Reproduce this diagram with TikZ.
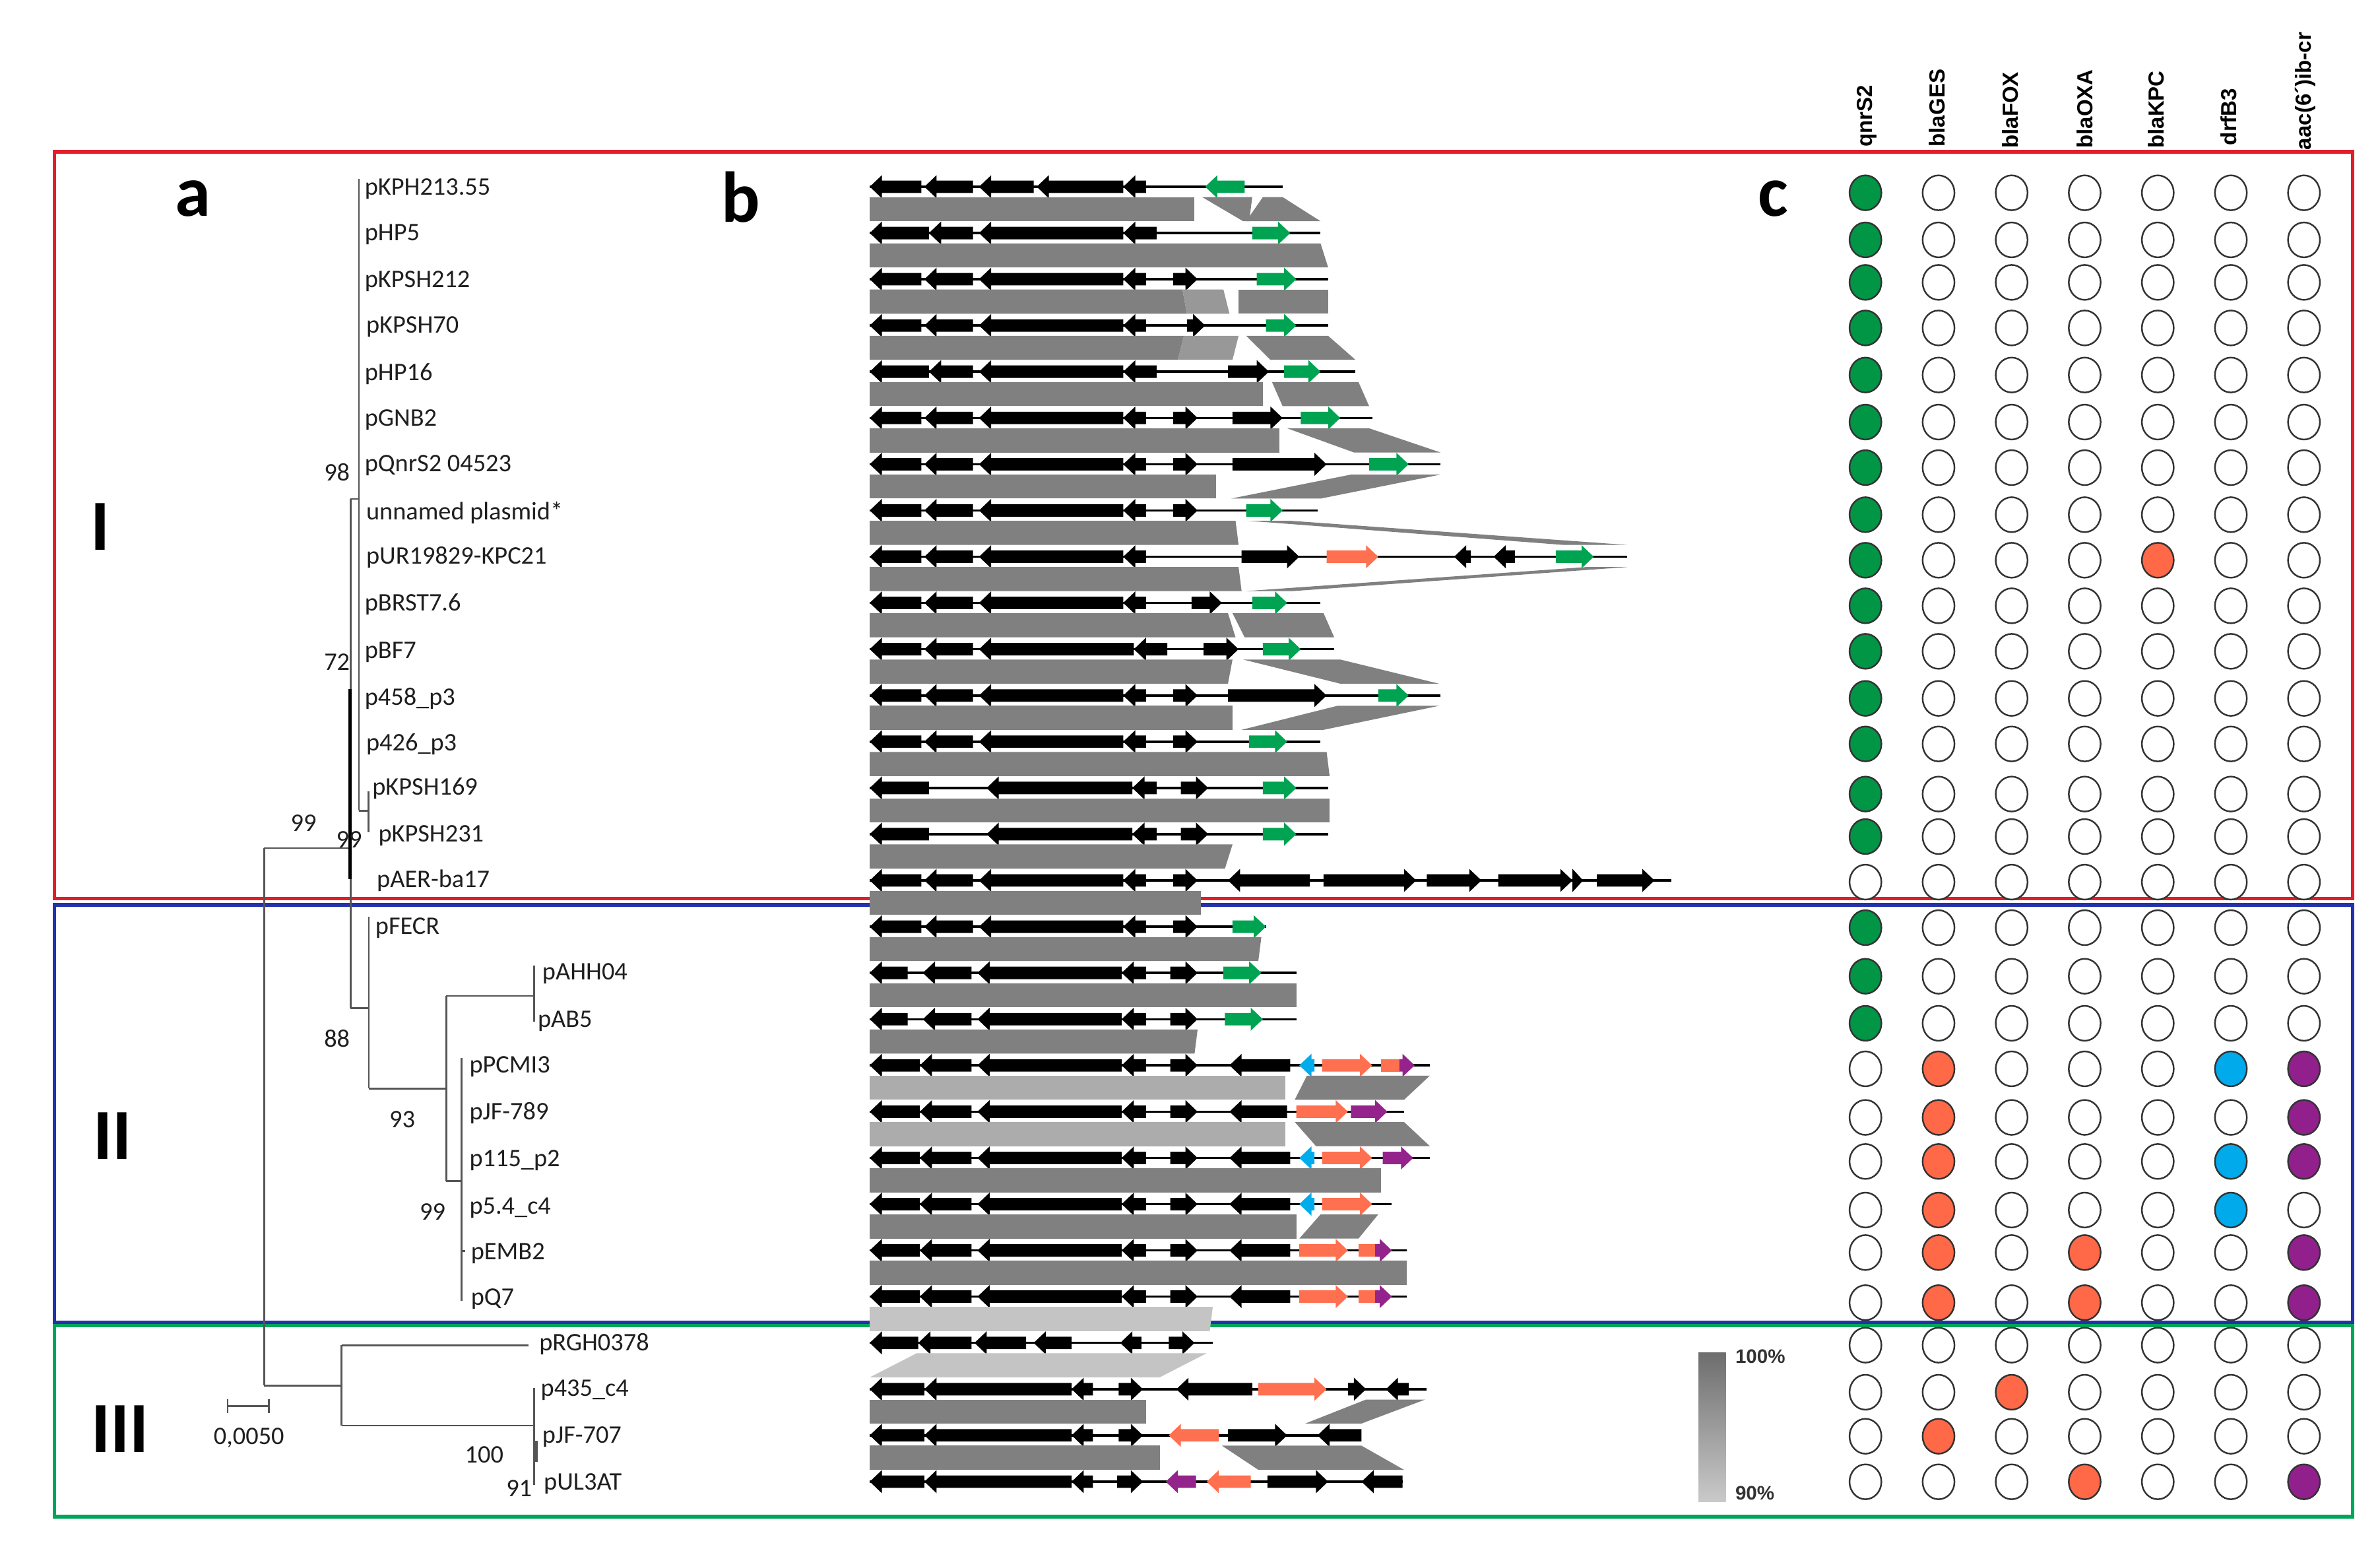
\documentclass[tikz,border=0pt]{standalone}
\usepackage{fontspec}
\setmainfont{Carlito}
\newfontfamily\hdrfont{Liberation Sans}
\definecolor{boxred}{RGB}{226,30,40}
\definecolor{boxblue}{RGB}{35,50,170}
\definecolor{boxgreen}{RGB}{0,165,90}
\definecolor{gGreen}{RGB}{0,163,82}
\definecolor{gOrange}{RGB}{255,112,80}
\definecolor{gCyan}{RGB}{0,172,236}
\definecolor{gPurple}{RGB}{148,36,140}
\definecolor{bDark}{RGB}{128,128,128}
\definecolor{bMid}{RGB}{152,152,152}
\definecolor{bLight}{RGB}{172,172,172}
\definecolor{bLighter}{RGB}{196,196,196}
\definecolor{treeGrey}{RGB}{85,85,85}
\definecolor{c0}{RGB}{255,255,255}
\definecolor{cg}{RGB}{0,150,70}
\definecolor{co}{RGB}{255,105,72}
\definecolor{cc}{RGB}{0,170,235}
\definecolor{cp}{RGB}{146,32,140}
\tikzset{
  lab/.style={anchor=base west, inner sep=0pt, font=\fontsize{10.9}{12}\selectfont, text=black!88},
  boot/.style={anchor=base, inner sep=0pt, font=\fontsize{10.9}{12}\selectfont, text=black!88},
  big/.style={inner sep=0pt, font=\fontsize{31}{31}\selectfont\bfseries},
  hdr/.style={rotate=90, anchor=base west, inner sep=0pt, font=\hdrfont\bfseries\fontsize{9.4}{10}\selectfont},
  leg/.style={anchor=base west, inner sep=0pt, font=\hdrfont\bfseries\fontsize{8.4}{9}\selectfont, text=black!80},
  tree/.style={draw=treeGrey, line width=0.8pt},
  trk/.style={draw=black, line width=1pt},
  frame/.style={line width=1.5pt},
  circ/.style={draw=black!80, line width=0.7pt}
}
\def\cy{0}
\def\bh{4.1}\def\hh{7.6}\def\hlen{8}
\newcommand\TR[1]{\draw[trk] ({573},{\cy}) -- ({#1},{\cy});}
\newcommand\GF[3][black]{\pgfmathsetmacro\hl{min(\hlen,#3-#2)}%
  \fill[#1] ({#2},{\cy-\bh}) -- ({#3-\hl},{\cy-\bh}) -- ({#3-\hl},{\cy-\hh}) -- ({#3},{\cy}) -- ({#3-\hl},{\cy+\hh}) -- ({#3-\hl},{\cy+\bh}) -- ({#2},{\cy+\bh}) -- cycle;}
\newcommand\GR[3][black]{\pgfmathsetmacro\hl{min(\hlen,#3-#2)}%
  \fill[#1] ({#3},{\cy-\bh}) -- ({#2+\hl},{\cy-\bh}) -- ({#2+\hl},{\cy-\hh}) -- ({#2},{\cy}) -- ({#2+\hl},{\cy+\hh}) -- ({#2+\hl},{\cy+\bh}) -- ({#3},{\cy+\bh}) -- cycle;}
\newcommand\BOX[3][gOrange]{\fill[#1] ({#2},{\cy-\bh}) rectangle ({#3},{\cy+\bh});}
\newcommand\SB[2]{\pgfmathsetmacro\ta{#1+6.8}\pgfmathsetmacro\tb{#2-7.8}}
\newcommand\BD[5][bDark]{\fill[#1] ({#2},{\ta}) -- ({#3},{\ta}) -- ({#5},{\tb}) -- ({#4},{\tb}) -- cycle;}
\newcommand\stdL{\GR{573}{607}\GR{609}{641}\GR{645}{740}\GR{740}{755}}
\newcommand\stdII{\GR{573}{606}\GR{606}{640}\GR{644}{739}\GR{739}{755}\GF{771}{789}}
\newcommand\CR[2]{\foreach \cq [count=\k from 0] in {#2} {\draw[circ, fill=c\cq] ({1229+48.15*\k},{#1}) ellipse [x radius=10.5, y radius=11.5];}}
\begin{document}
\begin{tikzpicture}[x=0.023cm,y=-0.023cm]
\useasboundingbox (0,0) rectangle (1568,1020);
\fill[white] (0,0) rectangle (1568,1020);
% frames
\draw[frame, boxred] (36,100) rectangle (1550,592);
\draw[frame, boxblue] (36,596) rectangle (1550,871);
\draw[frame, boxgreen] (36,873) rectangle (1550,999);
% panel letters and clade numerals
\node[big] (pa) at (127,131) {a};
\node[big] (pb) at (488,130) {b};
\node[big] (pc) at (1168,131) {c};
\node[big] (r1) at (66,347) {I};
\node[big] (r2) at (74,748) {II};
\node[big] (r3) at (79,941) {III};
% tree
\draw[tree] (174,558.6) -- (174,912.5);
\draw[tree] (174,558.6) -- (231,558.6);
\draw[tree] (174,912.5) -- (225,912.5);
\draw[tree] (231,328.6) -- (231,664);
\draw[tree] (231,328.6) -- (236.5,328.6);
\draw[tree] (236.5,118) -- (236.5,534);
\draw[tree] (236.5,534) -- (242.7,534);
\draw[tree] (242.7,521) -- (242.7,548);
\draw[black, line width=1.4pt] (230.6,454) -- (230.6,579);
\draw[tree] (231,664) -- (243,664);
\draw[tree] (243,604) -- (243,717);
\draw[tree] (243,717) -- (294,717);
\draw[tree] (294,656) -- (294,778);
\draw[tree] (294,656) -- (352,656);
\draw[tree] (352,636) -- (352,673);
\draw[tree] (294,778) -- (304,778);
\draw[tree] (304,697) -- (304,857);
\draw[tree] (304,824) -- (306.5,824);
\draw[tree] (225,886) -- (225,939);
\draw[tree] (225,886) -- (348,886);
\draw[tree] (225,939) -- (352,939);
\draw[tree] (352,914) -- (352,978);
\draw[treeGrey, line width=1.5pt] (353,949) -- (353,963);
\draw[tree] (150,926) -- (177,926);
\draw[tree] (150,921.5) -- (150,930.5);
\draw[tree] (177,921.5) -- (177,930.5);
\node[boot] (sc) at (164,951.5) {0,0050};
% leaf labels
\node[lab] (l1) at (240,128.5) {pKPH213.55};
\node[lab] (l2) at (240,158.5) {pHP5};
\node[lab] (l3) at (240,189.5) {pKPSH212};
\node[lab] (l4) at (241,219.5) {pKPSH70};
\node[lab] (l5) at (240,250.5) {pHP16};
\node[lab] (l6) at (240,280.5) {pGNB2};
\node[lab] (l7) at (240,310.5) {pQnrS2 04523};
\node[lab] (l8) at (241,342.5) {unnamed plasmid*};
\node[lab] (l9) at (241,371.5) {pUR19829-KPC21};
\node[lab] (l10) at (240,402.5) {pBRST7.6};
\node[lab] (l11) at (240,433.5) {pBF7};
\node[lab] (l12) at (240,464.5) {p458\_p3};
\node[lab] (l13) at (241,494.5) {p426\_p3};
\node[lab] (l14) at (245,523.5) {pKPSH169};
\node[lab] (l15) at (249,554.5) {pKPSH231};
\node[lab] (l16) at (248,584.5) {pAER-ba17};
\node[lab] (l17) at (247,615.5) {pFECR};
\node[lab] (l18) at (357,645.5) {pAHH04};
\node[lab] (l19) at (354,676.5) {pAB5};
\node[lab] (l20) at (309,706.5) {pPCMI3};
\node[lab] (l21) at (309,737.5) {pJF-789};
\node[lab] (l22) at (309,768.5) {p115\_p2};
\node[lab] (l23) at (309,799.5) {p5.4\_c4};
\node[lab] (l24) at (310,829.5) {pEMB2};
\node[lab] (l25) at (310,859.5) {pQ7};
\node[lab] (l26) at (355,889.5) {pRGH0378};
\node[lab] (l27) at (356,919.5) {p435\_c4};
\node[lab] (l28) at (357,950.5) {pJF-707};
\node[lab] (l29) at (358,981.5) {pUL3AT};
% bootstrap values
\node[boot] (b1) at (222,316.5) {98};
\node[boot] (b2) at (222,441.5) {72};
\node[boot] (b3) at (200,547.5) {99};
\node[boot] (b4) at (230,558.5) {99};
\node[boot] (b5) at (222,689.5) {88};
\node[boot] (b6) at (265,742.5) {93};
\node[boot] (b7) at (285,803.5) {99};
\node[boot] (b8) at (319,963.5) {100};
\node[boot] (b9) at (342,985.5) {91};
% ---------- panel b ----------
\def\cy{123}\TR{845}\GR{573}{607}\GR{609}{641}\GR{645}{681}\GR{683}{740}\GR{740}{755}\GR[gGreen]{794}{820}
\SB{123}{153.5}\BD{573}{787}{573}{787}\BD{792}{825}{819}{823}\BD{832}{845}{821}{870}
\def\cy{153.5}\TR{870}\GR{573}{612}\GR{612}{641}\GR{645}{740}\GR{740}{762}\GF[gGreen]{825}{850}
\SB{153.5}{183.9}\BD{573}{870}{573}{875}
\def\cy{183.9}\TR{875}\stdL\GF{773}{789}\GF[gGreen]{828}{854}
\SB{183.9}{214.4}\BD{573}{779}{573}{782}\BD[bMid]{779}{806}{782}{810}\BD{816}{875}{816}{875}
\def\cy{214.4}\TR{875}\stdL\GF{782}{794}\GF[gGreen]{834}{854}
\SB{214.4}{244.8}\BD{573}{780}{573}{776}\BD[bMid]{780}{816}{776}{812}\BD{821}{875}{837}{893}
\def\cy{244.8}\TR{893}\GR{573}{612}\GR{612}{641}\GR{645}{740}\GR{740}{762}\GF{809}{836}\GF[gGreen]{846}{870}
\SB{244.8}{275.3}\BD{573}{832}{573}{832}\BD{838}{895}{845}{902}
\def\cy{275.3}\TR{904}\stdL\GF{773}{789}\GF{812}{845}\GF[gGreen]{857}{883}
\SB{275.3}{305.8}\BD{573}{843}{573}{843}\BD{848}{902}{892}{949}
\def\cy{305.8}\TR{949}\stdL\GF{773}{789}\GF{812}{874}\GF[gGreen]{902}{928}
\SB{305.8}{336.2}\BD{573}{801}{573}{801}\BD{890}{949}{811}{870}
\def\cy{336.2}\TR{868}\stdL\GF{773}{789}\GF[gGreen]{821}{845}
\SB{336.2}{366.7}\BD{573}{814}{573}{816}\BD{822}{850}{1030}{1072}
\def\cy{366.7}\TR{1072}\stdL\GF{818}{856}\GF[gOrange]{874}{908}\GR{958}{969}\GR{984}{998}\GF[gGreen]{1025}{1050}
\SB{366.7}{397.1}\BD{573}{816}{573}{818}\BD{1045}{1072}{821}{852}
\def\cy{397.1}\TR{870}\stdL\GF{785}{805}\GF[gGreen]{825}{848}
\SB{397.1}{427.6}\BD{573}{809}{573}{814}\BD{812}{872}{820}{879}
\def\cy{427.6}\TR{879}\GR{573}{607}\GR{609}{641}\GR{645}{747}\GR{747}{769}\GF{793}{816}\GF[gGreen]{832}{857}
\SB{427.6}{458.1}\BD{573}{812}{573}{809}\BD{819}{883}{883}{948}
\def\cy{458.1}\TR{949}\stdL\GF{773}{789}\GF{809}{874}\GF[gGreen]{908}{928}
\SB{458.1}{488.5}\BD{573}{812}{573}{812}\BD{881}{948}{818}{872}
\def\cy{488.5}\TR{870}\stdL\GF{773}{789}\GF[gGreen]{823}{848}
\SB{488.5}{519}\BD{573}{874}{573}{876}
\def\cy{519}\TR{875}\GR{573}{612}\GR{650}{746}\GR{746}{762}\GF{778}{796}\GF[gGreen]{832}{854}
\SB{519}{549.4}\BD{573}{876}{573}{876}
\def\cy{549.4}\TR{875}\GR{573}{612}\GR{650}{746}\GR{746}{762}\GF{778}{796}\GF[gGreen]{832}{854}
\SB{549.4}{579.9}\BD{573}{812}{573}{807}
\def\cy{579.9}\TR{1101}\stdL\GF{773}{789}\GR{809}{863}\GF{872}{933}\GF{940}{976}\GF{987}{1036}\GF{1036}{1043}\GF{1052}{1090}
\SB{579.9}{610.4}\BD{573}{791}{573}{791}
\def\cy{610.4}\TR{834}\stdL\GF{773}{789}\GF[gGreen]{812}{834}
\SB{610.4}{640.8}\BD{573}{831}{573}{829}
\def\cy{640.8}\TR{854}\GR{573}{598}\GR{608}{640}\GR{644}{739}\GR{739}{755}\GF{771}{789}\GF[gGreen]{806}{831}
\SB{640.8}{671.3}\BD{573}{854}{573}{854}
\def\cy{671.3}\TR{854}\GR{573}{598}\GR{608}{640}\GR{644}{739}\GR{739}{755}\GF{771}{789}\GF[gGreen]{807}{832}
\SB{671.3}{701.7}\BD{573}{789}{573}{787}
\def\cy{701.7}\TR{942}\stdII\GR{810}{850}\GR[gCyan]{856}{866}\GF[gOrange]{871}{904}\BOX[gOrange]{910}{922}\GF[gPurple]{922}{932}
\SB{701.7}{732.2}\BD[bLight]{573}{847}{573}{847}\BD{861}{942}{853}{925}
\def\cy{732.2}\TR{925}\stdII\GR{810}{848}\GF[gOrange]{854}{888}\GF[gPurple]{890}{914}
\SB{732.2}{762.7}\BD[bLight]{573}{847}{573}{847}\BD{853}{925}{867}{942}
\def\cy{762.7}\TR{942}\stdII\GR{810}{850}\GR[gCyan]{856}{866}\GF[gOrange]{871}{904}\GF[gPurple]{911}{931}
\SB{762.7}{793.1}\BD{573}{910}{573}{910}
\def\cy{793.1}\TR{917}\stdII\GR{810}{850}\GR[gCyan]{856}{866}\GF[gOrange]{871}{904}
\SB{793.1}{823.6}\BD{573}{854}{573}{854}\BD{870}{908}{856}{895}
\def\cy{823.6}\TR{927}\stdII\GR{810}{850}\GF[gOrange]{856}{888}\BOX[gOrange]{895}{906}\GF[gPurple]{906}{917}
\SB{823.6}{854}\BD{573}{927}{573}{927}
\def\cy{854}\TR{927}\stdII\GR{810}{850}\GF[gOrange]{856}{888}\BOX[gOrange]{895}{906}\GF[gPurple]{906}{917}
\SB{854}{884.5}\BD[bLighter]{573}{799}{573}{797}
\def\cy{884.5}\TR{799}\GR{573}{605}\GR{605}{640}\GR{642}{676}\GR{681}{706}\GR{738}{752}\GF{770}{787}
\SB{884.5}{915}\BD[bLighter]{604}{795}{573}{764}
\def\cy{915}\TR{940}\GR{573}{609}\GR{609}{706}\GR{706}{720}\GF{737}{753}\GR{775}{825}\GF[gOrange]{829}{874}\GF{888}{900}\GR{913}{928}
\SB{915}{945.4}\BD{573}{755}{573}{755}\BD{900}{939}{860}{897}
\def\cy{945.4}\TR{897}\GR{573}{609}\GR{609}{706}\GR{706}{720}\GF{737}{753}\GR[gOrange]{770}{803}\GF{809}{848}\GR{868}{897}
\SB{945.4}{975.9}\BD{573}{764}{573}{764}\BD{805}{897}{829}{925}
\def\cy{975.9}\TR{924}\GR{573}{609}\GR{609}{706}\GR{706}{720}\GF{736}{753}\GR[gPurple]{768}{788}\GR[gOrange]{795}{824}\GF{835}{875}\GR{897}{924}
% legend
\shade[top color=black!57, bottom color=black!21] (1119,891) rectangle (1137,989);
\node[leg] (g100) at (1143,898) {100\%};
\node[leg] (g90) at (1143,988) {90\%};
% ---------- panel c ----------
\node[hdr] (h1) at (1233.5,97) {qnrS2};
\node[hdr] (h2) at (1281.5,97) {blaGES};
\node[hdr] (h3) at (1329.5,98) {blaFOX};
\node[hdr] (h4) at (1378.5,98) {blaOXA};
\node[hdr] (h5) at (1425.5,98) {blaKPC};
\node[hdr] (h6) at (1473.5,96) {drfB3};
\node[hdr] (h7) at (1522.5,99) {aac(6´)ib-cr};
\CR{127}{g,0,0,0,0,0,0}
\CR{158}{g,0,0,0,0,0,0}
\CR{186}{g,0,0,0,0,0,0}
\CR{216}{g,0,0,0,0,0,0}
\CR{247}{g,0,0,0,0,0,0}
\CR{278}{g,0,0,0,0,0,0}
\CR{308}{g,0,0,0,0,0,0}
\CR{339}{g,0,0,0,0,0,0}
\CR{369}{g,0,0,0,o,0,0}
\CR{399}{g,0,0,0,0,0,0}
\CR{429}{g,0,0,0,0,0,0}
\CR{460}{g,0,0,0,0,0,0}
\CR{490}{g,0,0,0,0,0,0}
\CR{523}{g,0,0,0,0,0,0}
\CR{551}{g,0,0,0,0,0,0}
\CR{581}{0,0,0,0,0,0,0}
\CR{611}{g,0,0,0,0,0,0}
\CR{643}{g,0,0,0,0,0,0}
\CR{674}{g,0,0,0,0,0,0}
\CR{704}{0,o,0,0,0,c,p}
\CR{736}{0,o,0,0,0,0,p}
\CR{765}{0,o,0,0,0,c,p}
\CR{797}{0,o,0,0,0,c,0}
\CR{825}{0,o,0,o,0,0,p}
\CR{858}{0,o,0,o,0,0,p}
\CR{886}{0,0,0,0,0,0,0}
\CR{917}{0,0,o,0,0,0,0}
\CR{946}{0,o,0,0,0,0,0}
\CR{976}{0,0,0,o,0,0,p}
\end{tikzpicture}
\end{document}
